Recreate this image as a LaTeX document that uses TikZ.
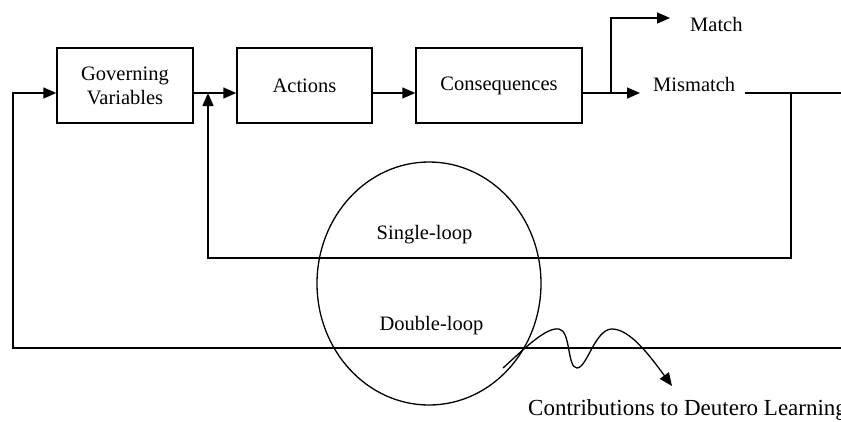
\documentclass[tikz,border=0pt]{standalone}
\usepackage{fontspec}
\setmainfont{Liberation Serif}
\usetikzlibrary{arrows.meta,shapes.geometric}
\begin{document}
\begin{tikzpicture}[x=1pt,y=-1pt,
  line/.style={line width=1.5pt},
  arr/.style={line width=1.5pt,-{Triangle[length=13pt,width=11pt]}},
  blk/.style={draw,line width=1.5pt,minimum height=75pt,inner sep=2pt,align=center,font=\fontsize{20.5}{24}\selectfont},
  lbl/.style={inner sep=0pt,anchor=base,font=\fontsize{20.5}{24}\selectfont}]
\useasboundingbox (0,0) rectangle (841,421);
% boxes
\node[blk,minimum width=136pt] (gv) at (125,85.5) {Governing\\Variables};
\node[blk,minimum width=135pt] (act) at (304.5,85.5) {Actions};
\node[blk,minimum width=166pt] (cons) at (499,85.5) {Consequences};
% labels
\node[lbl,anchor=base west] (match) at (690,31) {Match};
\node[lbl,anchor=base west] (mis) at (653,91) {Mismatch};
\node[lbl] (single) at (424.5,239) {Single-loop};
\node[lbl] (double) at (431.5,330) {Double-loop};
\node[lbl,anchor=base west,font=\fontsize{23}{26}\selectfont] (contrib) at (528,415) {Contributions to Deutero Learning};
% ellipse
\node[draw,ellipse,line width=1.3pt,minimum width=224pt,minimum height=243pt,inner sep=0pt] (circ) at (429,283.5) {};
% coordinates
\coordinate (j) at (208,93);
\coordinate (jb) at (208,258);
\coordinate (br) at (611,93);
\coordinate (mt) at (611,18);
\coordinate (mtip) at (670,18);
\coordinate (mstip) at (640,93);
\coordinate (ml) at (745,93);
\coordinate (mr) at (841,93);
\coordinate (sr) at (791,93);
\coordinate (srb) at (791,258);
\coordinate (dr) at (841,348);
\coordinate (dl) at (13,348);
\coordinate (dt) at (13,93);
\coordinate (w0) at (503,368);
\coordinate (wtip) at (672,386);
% main flow
\draw[arr] (gv.east |- j) -- (act.west |- j);
\draw[arr] (act.east |- j) -- (cons.west |- j);
\draw[arr] (cons.east |- j) -- (mstip);
\draw[arr] (br) -- (mt) -- (mtip);
\draw[line] (ml) -- (mr);
% single loop
\draw[arr] (sr) -- (srb) -- (jb) -- (j);
% double loop
\draw[arr] (dr) -- (dl) -- (dt) -- (gv.west |- dt);
% wavy arrow
\draw[line width=1.3pt,-{Triangle[length=13pt,width=11pt]}] (w0) .. controls (525,348) and (546,327) .. (559,329)
  .. controls (571,331) and (567,368) .. (577,368)
  .. controls (587,368) and (595,329) .. (612,329)
  .. controls (630,329) and (650,356) .. (wtip);
\end{tikzpicture}
\end{document}
